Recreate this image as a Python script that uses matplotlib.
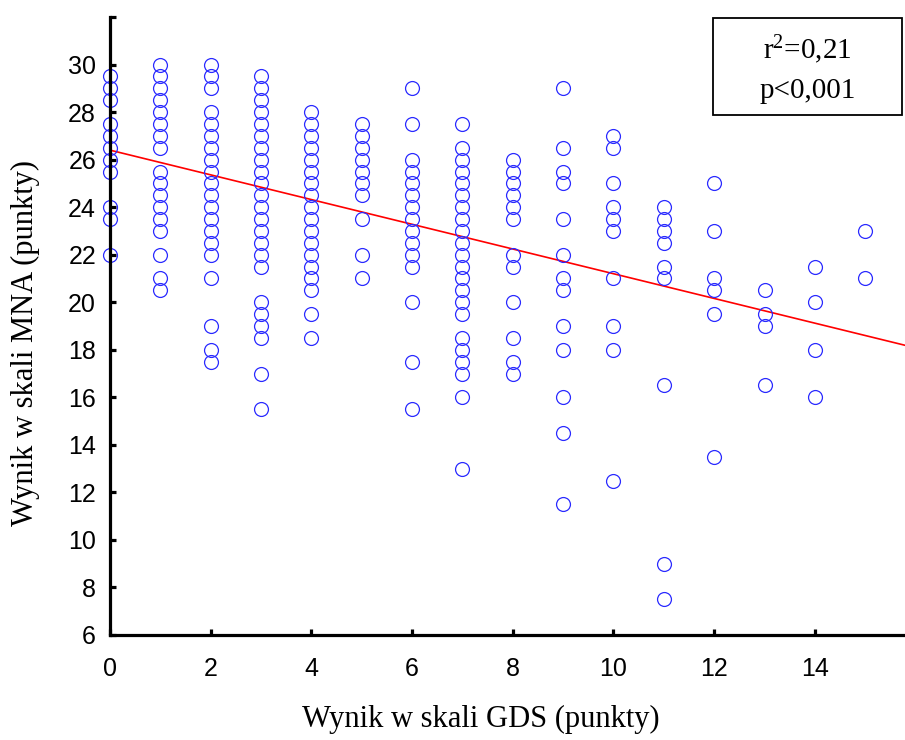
import numpy as np
import matplotlib
matplotlib.use("Agg")
import matplotlib.pyplot as plt
from matplotlib.patches import Rectangle

# GDS score (x) and MNA scores observed at each GDS value (y)
GDS_VALUES = [0, 1, 2, 3, 4, 5, 6, 7, 8, 9, 10, 11, 12, 13, 14, 15]
MNA_VALUES = [
    [29.5, 29, 28.5, 27.5, 27, 26.5, 26, 25.5, 24, 23.5, 22],
    [30, 29.5, 29, 28.5, 28, 27.5, 27, 26.5, 25.5, 25, 24.5, 24, 23.5, 23, 22, 21, 20.5],
    [30, 29.5, 29, 28, 27.5, 27, 26.5, 26, 25.5, 25, 24.5, 24, 23.5, 23, 22.5, 22, 21,
     19, 18, 17.5],
    [29.5, 29, 28.5, 28, 27.5, 27, 26.5, 26, 25.5, 25, 24.5, 24, 23.5, 23, 22.5, 22,
     21.5, 20, 19.5, 19, 18.5, 17, 15.5],
    [28, 27.5, 27, 26.5, 26, 25.5, 25, 24.5, 24, 23.5, 23, 22.5, 22, 21.5, 21, 20.5,
     19.5, 18.5],
    [27.5, 27, 26.5, 26, 25.5, 25, 24.5, 23.5, 22, 21],
    [29, 27.5, 26, 25.5, 25, 24.5, 24, 23.5, 23, 22.5, 22, 21.5, 20, 17.5, 15.5],
    [27.5, 26.5, 26, 25.5, 25, 24.5, 24, 23.5, 23, 22.5, 22, 21.5, 21, 20.5, 20, 19.5,
     18.5, 18, 17.5, 17, 16, 13],
    [26, 25.5, 25, 24.5, 24, 23.5, 22, 21.5, 20, 18.5, 17.5, 17],
    [29, 26.5, 25.5, 25, 23.5, 22, 21, 20.5, 19, 18, 16, 14.5, 11.5],
    [27, 26.5, 25, 24, 23.5, 23, 21, 19, 18, 12.5],
    [24, 23.5, 23, 22.5, 21.5, 21, 16.5, 9, 7.5],
    [25, 23, 21, 20.5, 19.5, 13.5],
    [20.5, 19.5, 19, 16.5],
    [21.5, 20, 18, 16],
    [23, 21],
]

# regression line
FIT_INTERCEPT = 26.4
FIT_SLOPE = -0.52

STATS_TEXT = [r"r$\mathregular{^2}$=0,21", "p<0,001"]
X_LABEL = "Wynik w skali GDS (punkty)"
Y_LABEL = "Wynik w skali MNA (punkty)"
X_TICKS = [0, 2, 4, 6, 8, 10, 12, 14]
Y_TICKS = [6, 8, 10, 12, 14, 16, 18, 20, 22, 24, 26, 28, 30, 32]

XMIN, XMAX = 0, 15.79
YMIN, YMAX = 6, 32

SERIF = ["Liberation Serif", "DejaVu Serif"]
SANS = ["Liberation Sans", "DejaVu Sans"]


def main():
    fig = plt.figure(figsize=(9.05, 7.4), dpi=100)
    ax = fig.add_axes([0.1215, 0.1419, 0.8785, 0.8351])

    xs = []
    ys = []
    for gds, mna in zip(GDS_VALUES, MNA_VALUES):
        xs.extend([gds] * len(mna))
        ys.extend(mna)

    ax.plot(xs, ys, linestyle="none", marker="o", markersize=10,
            markerfacecolor="none", markeredgecolor="#2a2aff",
            markeredgewidth=0.9, clip_on=False, zorder=3)

    line_x = np.array([XMIN, XMAX])
    ax.plot(line_x, FIT_INTERCEPT + FIT_SLOPE * line_x, color="red",
            linewidth=1.2, zorder=2)

    ax.set_xlim(XMIN, XMAX)
    ax.set_ylim(YMIN, YMAX)
    ax.set_xticks(X_TICKS)
    ax.set_yticks(Y_TICKS)
    ax.set_yticklabels([str(t) if t <= 30 else "" for t in Y_TICKS])

    for side in ["top", "right"]:
        ax.spines[side].set_visible(False)
    for side in ["left", "bottom"]:
        ax.spines[side].set_linewidth(2.3)
        ax.spines[side].set_zorder(4)

    ax.tick_params(direction="in", length=4, width=2.3, labelsize=18)
    ax.tick_params(axis="x", pad=16)
    ax.tick_params(axis="y", pad=10)
    for lbl in ax.get_xticklabels() + ax.get_yticklabels():
        lbl.set_family(SANS)

    ax.set_xlabel(X_LABEL, family=SERIF, fontsize=22)
    ax.set_ylabel(Y_LABEL, family=SERIF, fontsize=22)
    ax.xaxis.set_label_coords(0.467, -0.113)
    ax.yaxis.set_label_coords(-0.088, 0.4725)

    # stats box in the top-right corner
    box = Rectangle((0.7585, 0.841), 0.238, 0.157, transform=ax.transAxes,
                    facecolor="white", edgecolor="black", linewidth=1.3,
                    clip_on=False, zorder=5)
    ax.add_patch(box)
    ax.text(0.8775, 0.947, STATS_TEXT[0], transform=ax.transAxes,
            ha="center", va="center", family=SERIF, fontsize=21, zorder=6)
    ax.text(0.8775, 0.881, STATS_TEXT[1], transform=ax.transAxes,
            ha="center", va="center", family=SERIF, fontsize=21, zorder=6)

    fig.savefig("out.png", dpi=100)


if __name__ == "__main__":
    main()
